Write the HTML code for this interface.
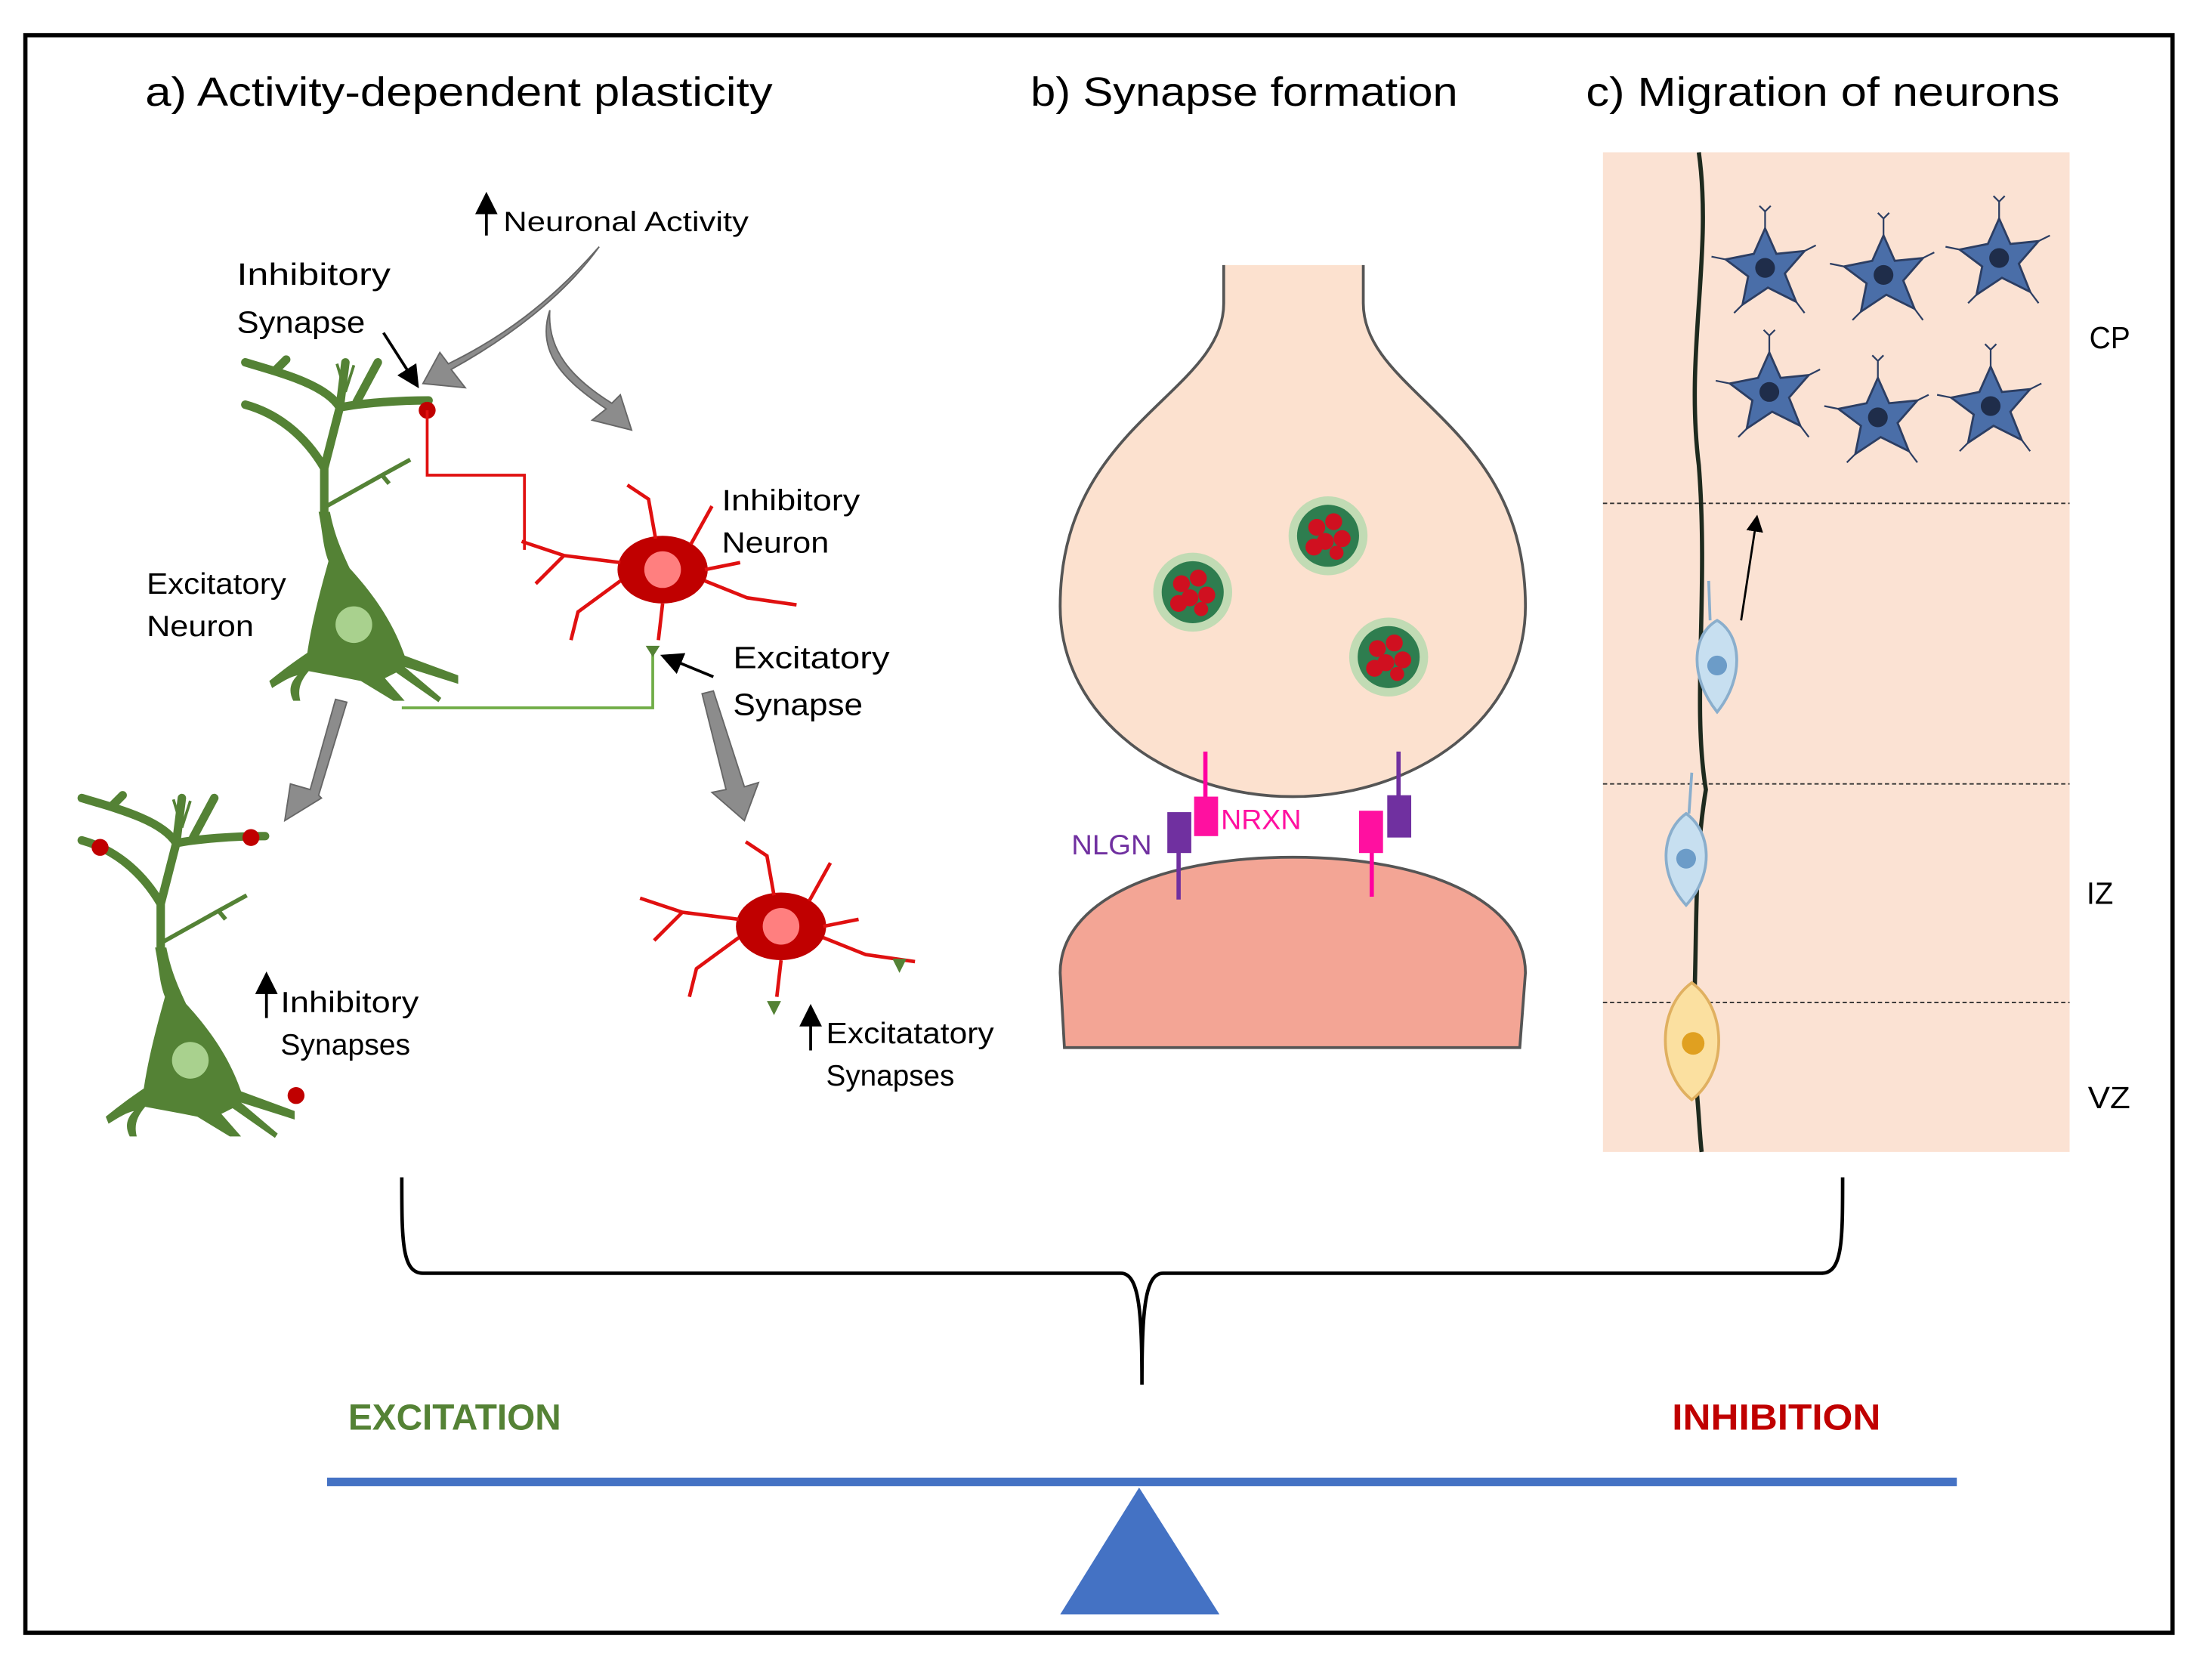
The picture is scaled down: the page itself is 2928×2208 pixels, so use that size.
<!DOCTYPE html>
<html><head><meta charset="utf-8"><style>
html,body{margin:0;padding:0;background:#fff;}
svg{display:block;}
text{font-family:"Liberation Sans","DejaVu Sans",sans-serif;}
</style></head><body>
<svg width="2928" height="2208" viewBox="0 0 1569 1183" preserveAspectRatio="none" xmlns="http://www.w3.org/2000/svg">
<defs>
<marker id="ah" markerWidth="8" markerHeight="8" refX="6" refY="4" orient="auto"><path d="M0,0 L8,4 L0,8 z" fill="#000"/></marker>
<g id="star">
<path d="M0,-28 L8,-10 L28,-12 L14,4 L22,24 L2,14 L-16,26 L-12,6 L-28,-6 L-8,-10 Z" fill="#4a6ea8" stroke="#2c3e63" stroke-width="1.5"/>
<circle cx="0" cy="0" r="7" fill="#1f2d4a"/>
<path d="M0,-28 L0,-40 M-4,-44 L0,-40 L4,-44 M28,-12 L36,-16 M22,24 L28,32 M-16,26 L-22,32 M-28,-6 L-38,-8" stroke="#2c3e63" stroke-width="1.2" fill="none"/>
</g>
<g id="ves">
<circle cx="0" cy="0" r="28" fill="#a8d8a8" opacity="0.7"/>
<circle cx="0" cy="0" r="22" fill="#2e7d4f"/>
<circle cx="-8" cy="-6" r="6" fill="#d01020"/><circle cx="4" cy="-10" r="6" fill="#d01020"/><circle cx="10" cy="2" r="6" fill="#d01020"/>
<circle cx="-2" cy="4" r="6" fill="#d01020"/><circle cx="-10" cy="8" r="6" fill="#d01020"/><circle cx="6" cy="12" r="5" fill="#d01020"/>
</g>
<g id="gneuron">
<path d="M-25,-80 C-22,-65 -22,-55 -18,-45 C-25,-20 -30,0 -33,20 C-45,28 -55,36 -60,40 L-58,45 C-50,40 -45,37 -40,36 C-46,42 -46,48 -43,54 L-38,54 C-40,46 -38,40 -32,33 L-5,38 L5,40 L28,54 L36,54 L22,38 L30,34 L60,55 L62,52 L36,30 L74,42 L74,36 L36,22 C30,5 20,-15 -3,-40 C-10,-55 -14,-65 -17,-80 Z" fill="#548235"/>
<path d="M-21,-80 L-21,-111 L-10,-154 C-20,-170 -50,-178 -77,-186 M-10,-154 L-6,-186 M-10,-154 C5,-157 30,-159 53,-159 M2,-158 L17,-186 M-21,-111 C-35,-135 -55,-150 -77,-156 M-55,-181 L-48,-188" stroke="#548235" stroke-width="6" fill="none" stroke-linecap="round"/>
<path d="M-6,-165 L-12,-185 M-6,-165 L0,-184" stroke="#548235" stroke-width="2" fill="none"/>
<path d="M-23,-82 L20,-106 L40,-117 M20,-106 L25,-100" stroke="#548235" stroke-width="3" fill="none"/>
<circle cx="0" cy="0" r="13" fill="#a9d18e"/>
</g>
<g id="rneuron">
<ellipse cx="0" cy="0" rx="32" ry="24" fill="#c00000"/>
<circle cx="0" cy="0" r="13" fill="#ff7f7f"/>
<path d="M-30,-5 L-70,-10 L-100,-20 M-70,-10 L-90,10 M-30,8 L-60,30 L-65,50 M-5,-22 L-10,-50 L-25,-60 M20,-18 L35,-45 M30,8 L60,20 L95,25 M30,0 L55,-5 M0,24 L-3,50" stroke="#e01010" stroke-width="2.5" fill="none"/>
</g>
</defs>
<rect x="0" y="0" width="1569" height="1183" fill="#fff"/>
<rect x="18" y="25" width="1523" height="1133" fill="none" stroke="#000" stroke-width="3"/>
<g lengthAdjust="spacingAndGlyphs">
<text x="103" y="75" font-size="29" textLength="445" lengthAdjust="spacingAndGlyphs">a) Activity-dependent plasticity</text>
<text x="731" y="75" font-size="29" textLength="303" lengthAdjust="spacingAndGlyphs">b) Synapse formation</text>
<text x="1125" y="75" font-size="29" textLength="336" lengthAdjust="spacingAndGlyphs">c) Migration of neurons</text>
</g>

<path d="M345,167 L345,140" stroke="#000" stroke-width="2" marker-end="url(#ah)"/>
<text x="357" y="164" font-size="20" textLength="174" lengthAdjust="spacingAndGlyphs">Neuronal Activity</text>
<path d="M425,175 C400,210 360,240 320,262 L330,275 L300,272 L312,250 L318,258 C355,240 390,215 425,175 Z" fill="#8c8c8c" stroke="#666"/>
<path d="M390,220 C380,250 400,270 430,290 L420,298 L448,305 L440,280 L434,286 C405,268 388,248 390,220 Z" fill="#8c8c8c" stroke="#666"/>
<text x="168" y="202" font-size="22" textLength="109" lengthAdjust="spacingAndGlyphs">Inhibitory</text>
<text x="168" y="236" font-size="22" textLength="91" lengthAdjust="spacingAndGlyphs">Synapse</text>
<path d="M272,236 L295,272" stroke="#000" stroke-width="2" marker-end="url(#ah)"/>
<use href="#gneuron" x="251" y="443"/>
<circle cx="303" cy="291" r="6" fill="#c00000"/>
<path d="M303,291 L303,337 L372,337 L372,390" stroke="#e01010" stroke-width="2" fill="none"/>
<use href="#rneuron" x="470" y="404"/>
<text x="512" y="362" font-size="21" textLength="98" lengthAdjust="spacingAndGlyphs">Inhibitory</text>
<text x="512" y="392" font-size="21" textLength="76" lengthAdjust="spacingAndGlyphs">Neuron</text>
<text x="104" y="421" font-size="21" textLength="99" lengthAdjust="spacingAndGlyphs">Excitatory</text>
<text x="104" y="451" font-size="21" textLength="76" lengthAdjust="spacingAndGlyphs">Neuron</text>
<path d="M285,502 L463,502 L463,460" stroke="#70ad47" stroke-width="2" fill="none"/>
<path d="M458,458 L468,458 L463,466 Z" fill="#548235"/>
<path d="M506,480 L472,466" stroke="#000" stroke-width="2" marker-end="url(#ah)"/>
<text x="520" y="474" font-size="22" textLength="111" lengthAdjust="spacingAndGlyphs">Excitatory</text>
<text x="520" y="507" font-size="22" textLength="92" lengthAdjust="spacingAndGlyphs">Synapse</text>
<path d="M238,496 L220,560 L206,556 L202,582 L228,566 L226,564 L246,498 Z" fill="#8c8c8c" stroke="#666"/>
<path d="M498,492 L515,560 L505,562 L528,582 L538,555 L528,558 L506,490 Z" fill="#8c8c8c" stroke="#666"/>
<use href="#gneuron" x="135" y="752"/>
<circle cx="71" cy="601" r="6" fill="#c00000"/><circle cx="178" cy="594" r="6" fill="#c00000"/><circle cx="210" cy="777" r="6" fill="#c00000"/>
<path d="M189,722 L189,693" stroke="#000" stroke-width="2" marker-end="url(#ah)"/>
<text x="199" y="718" font-size="21" textLength="98" lengthAdjust="spacingAndGlyphs">Inhibitory</text>
<text x="199" y="748" font-size="21" textLength="92" lengthAdjust="spacingAndGlyphs">Synapses</text>
<use href="#rneuron" x="554" y="657"/>
<path d="M633,680 L643,680 L638,690 Z" fill="#548235"/><path d="M544,710 L554,710 L549,720 Z" fill="#548235"/>
<path d="M575,745 L575,716" stroke="#000" stroke-width="2" marker-end="url(#ah)"/>
<text x="586" y="740" font-size="21" textLength="119" lengthAdjust="spacingAndGlyphs">Excitatatory</text>
<text x="586" y="770" font-size="21" textLength="91" lengthAdjust="spacingAndGlyphs">Synapses</text>

<path d="M868,188 L868,215 C868,280 752,300 752,430 C752,510 830,565 917,565 C1004,565 1082,510 1082,430 C1082,300 967,280 967,215 L967,188" fill="#fce1cf" stroke="#555" stroke-width="2"/>
<path d="M755,743 L752,690 C752,640 820,608 917,608 C1014,608 1082,640 1082,690 L1078,743 Z" fill="#f3a595" stroke="#555" stroke-width="2"/>
<use href="#ves" x="846" y="420"/><use href="#ves" x="942" y="380"/><use href="#ves" x="985" y="466"/>
<path d="M855,533 L855,570 M973,600 L973,636" stroke="#ff00a0" stroke-width="3"/>
<rect x="847" y="565" width="17" height="28" fill="#ff10a0"/><rect x="964" y="575" width="17" height="30" fill="#ff10a0"/>
<path d="M836,600 L836,638 M992,533 L992,570" stroke="#7030a0" stroke-width="3"/>
<rect x="828" y="576" width="17" height="29" fill="#7030a0"/><rect x="984" y="564" width="17" height="30" fill="#7030a0"/>
<text x="866" y="588" font-size="20" fill="#ff10a0" textLength="57" lengthAdjust="spacingAndGlyphs">NRXN</text>
<text x="760" y="606" font-size="20" fill="#7030a0" textLength="57" lengthAdjust="spacingAndGlyphs">NLGN</text>

<rect x="1137" y="108" width="331" height="709" fill="#fbe2d3"/>
<path d="M1137,357 H1468 M1137,556 H1468 M1137,711 H1468" stroke="#333" stroke-width="1" stroke-dasharray="3,2"/>
<path d="M1205,108 C1215,180 1195,250 1205,330 C1212,420 1200,500 1210,560 C1200,620 1205,680 1200,740 C1205,780 1205,800 1207,817" stroke="#1e2a1e" stroke-width="3" fill="none"/>
<use href="#star" x="1252" y="190"/><use href="#star" x="1336" y="195"/><use href="#star" x="1418" y="183"/>
<use href="#star" x="1255" y="278"/><use href="#star" x="1332" y="296"/><use href="#star" x="1412" y="288"/>
<path d="M1218,440 C1235,450 1238,480 1218,505 C1198,480 1200,450 1218,440 Z M1213,440 L1212,412" fill="#c7dff0" stroke="#8aaecc" stroke-width="2"/>
<circle cx="1218" cy="472" r="7" fill="#6c9cc8"/>
<path d="M1196,577 C1214,590 1216,620 1196,642 C1176,620 1178,590 1196,577 Z M1198,577 L1200,548" fill="#c7dff0" stroke="#8aaecc" stroke-width="2"/>
<circle cx="1196" cy="609" r="7" fill="#6c9cc8"/>
<path d="M1200,697 C1225,715 1226,760 1200,780 C1175,760 1175,715 1200,697 Z" fill="#fbe0a0" stroke="#e0b060" stroke-width="2"/>
<circle cx="1201" cy="740" r="8" fill="#e0a020"/>
<path d="M1235,440 L1246,368" stroke="#000" stroke-width="1.5" marker-end="url(#ah)"/>
<text x="1482" y="247" font-size="22" textLength="29" lengthAdjust="spacingAndGlyphs">CP</text>
<text x="1480" y="641" font-size="22" textLength="19" lengthAdjust="spacingAndGlyphs">IZ</text>
<text x="1481" y="786" font-size="22" textLength="30" lengthAdjust="spacingAndGlyphs">VZ</text>

<path d="M285,835 C285,880 285,903 300,903 L795,903 C808,903 810,930 810,982 C810,930 812,903 825,903 L1292,903 C1307,903 1307,880 1307,835" fill="none" stroke="#000" stroke-width="2.5"/>
<text x="247" y="1014" font-size="26" font-weight="bold" fill="#548235" textLength="151" lengthAdjust="spacingAndGlyphs">EXCITATION</text>
<text x="1186" y="1014" font-size="26" font-weight="bold" fill="#c00000" textLength="148" lengthAdjust="spacingAndGlyphs">INHIBITION</text>
<line x1="232" y1="1051" x2="1388" y2="1051" stroke="#4472c4" stroke-width="6"/>
<polygon points="752,1145 865,1145 808,1055" fill="#4472c4"/>
</svg>
</body></html>
